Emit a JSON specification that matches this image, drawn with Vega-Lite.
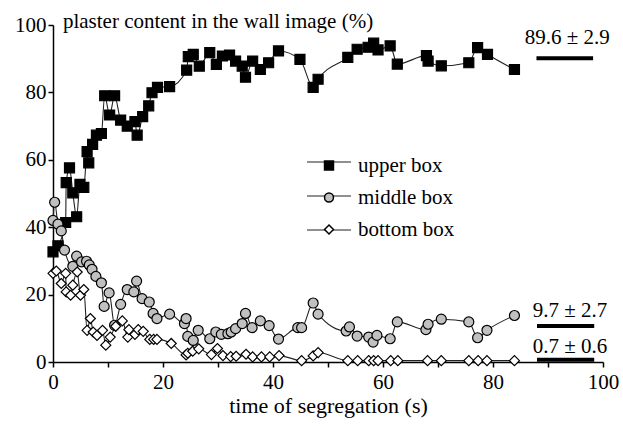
{
  "$schema": "https://vega.github.io/schema/vega-lite/v6.json",
  "width": 550,
  "height": 337,
  "autosize": {"type": "none"},
  "padding": {"left": 53, "top": 25, "right": 20, "bottom": 64},
  "background": "white",
  "config": {
    "view": {"stroke": null},
    "font": "Liberation Serif",
    "axis": {
      "grid": false,
      "domainColor": "black",
      "domainWidth": 1.5,
      "tickColor": "black",
      "tickWidth": 1.5,
      "tickSize": 5,
      "labelFont": "Liberation Serif",
      "labelFontSize": 21,
      "labelColor": "black",
      "titleFont": "Liberation Serif",
      "titleFontSize": 22,
      "titleFontWeight": "normal",
      "titleColor": "black",
      "labelFlush": false,
      "labelOverlap": false
    }
  },
  "data": {
    "values": [
      {"t": 0.0, "v": 32.7, "series": "upper box"},
      {"t": 0.9, "v": 34.5, "series": "upper box"},
      {"t": 2.3, "v": 41.4, "series": "upper box"},
      {"t": 2.4, "v": 53.2, "series": "upper box"},
      {"t": 3.0, "v": 57.6, "series": "upper box"},
      {"t": 3.6, "v": 50.2, "series": "upper box"},
      {"t": 4.3, "v": 43.1, "series": "upper box"},
      {"t": 4.9, "v": 52.7, "series": "upper box"},
      {"t": 5.6, "v": 51.8, "series": "upper box"},
      {"t": 6.2, "v": 62.4, "series": "upper box"},
      {"t": 6.5, "v": 59.1, "series": "upper box"},
      {"t": 7.2, "v": 64.6, "series": "upper box"},
      {"t": 7.9, "v": 67.3, "series": "upper box"},
      {"t": 8.8, "v": 67.8, "series": "upper box"},
      {"t": 9.4, "v": 79.0, "series": "upper box"},
      {"t": 10.3, "v": 73.3, "series": "upper box"},
      {"t": 11.2, "v": 79.0, "series": "upper box"},
      {"t": 12.3, "v": 71.8, "series": "upper box"},
      {"t": 13.5, "v": 70.0, "series": "upper box"},
      {"t": 14.9, "v": 71.3, "series": "upper box"},
      {"t": 15.3, "v": 67.3, "series": "upper box"},
      {"t": 16.3, "v": 72.8, "series": "upper box"},
      {"t": 17.4, "v": 76.0, "series": "upper box"},
      {"t": 18.0, "v": 79.9, "series": "upper box"},
      {"t": 19.0, "v": 81.5, "series": "upper box"},
      {"t": 21.2, "v": 81.7, "series": "upper box"},
      {"t": 24.3, "v": 86.6, "series": "upper box"},
      {"t": 24.6, "v": 90.6, "series": "upper box"},
      {"t": 25.5, "v": 91.3, "series": "upper box"},
      {"t": 26.6, "v": 87.8, "series": "upper box"},
      {"t": 28.5, "v": 91.8, "series": "upper box"},
      {"t": 29.7, "v": 88.3, "series": "upper box"},
      {"t": 30.8, "v": 90.8, "series": "upper box"},
      {"t": 32.1, "v": 91.1, "series": "upper box"},
      {"t": 33.2, "v": 89.3, "series": "upper box"},
      {"t": 34.4, "v": 87.8, "series": "upper box"},
      {"t": 35.0, "v": 84.5, "series": "upper box"},
      {"t": 36.3, "v": 89.3, "series": "upper box"},
      {"t": 37.7, "v": 86.8, "series": "upper box"},
      {"t": 39.2, "v": 88.8, "series": "upper box"},
      {"t": 41.0, "v": 92.3, "series": "upper box"},
      {"t": 44.9, "v": 89.8, "series": "upper box"},
      {"t": 47.3, "v": 81.5, "series": "upper box"},
      {"t": 48.2, "v": 83.9, "series": "upper box"},
      {"t": 53.6, "v": 90.4, "series": "upper box"},
      {"t": 55.3, "v": 92.8, "series": "upper box"},
      {"t": 57.3, "v": 93.4, "series": "upper box"},
      {"t": 58.3, "v": 94.6, "series": "upper box"},
      {"t": 59.1, "v": 92.6, "series": "upper box"},
      {"t": 61.3, "v": 93.8, "series": "upper box"},
      {"t": 62.6, "v": 88.4, "series": "upper box"},
      {"t": 67.9, "v": 90.9, "series": "upper box"},
      {"t": 68.2, "v": 89.3, "series": "upper box"},
      {"t": 70.6, "v": 87.9, "series": "upper box"},
      {"t": 75.6, "v": 88.8, "series": "upper box"},
      {"t": 77.2, "v": 93.3, "series": "upper box"},
      {"t": 79.0, "v": 91.3, "series": "upper box"},
      {"t": 83.9, "v": 86.8, "series": "upper box"},

      {"t": 0.0, "v": 42.0, "series": "middle box"},
      {"t": 0.3, "v": 47.4, "series": "middle box"},
      {"t": 0.9, "v": 40.9, "series": "middle box"},
      {"t": 1.5, "v": 38.9, "series": "middle box"},
      {"t": 2.1, "v": 33.2, "series": "middle box"},
      {"t": 3.6, "v": 28.4, "series": "middle box"},
      {"t": 4.3, "v": 31.4, "series": "middle box"},
      {"t": 5.2, "v": 29.7, "series": "middle box"},
      {"t": 6.1, "v": 29.9, "series": "middle box"},
      {"t": 6.6, "v": 28.8, "series": "middle box"},
      {"t": 7.1, "v": 27.5, "series": "middle box"},
      {"t": 7.8, "v": 25.4, "series": "middle box"},
      {"t": 8.8, "v": 23.5, "series": "middle box"},
      {"t": 9.3, "v": 16.5, "series": "middle box"},
      {"t": 10.2, "v": 20.5, "series": "middle box"},
      {"t": 11.2, "v": 10.9, "series": "middle box"},
      {"t": 12.3, "v": 17.1, "series": "middle box"},
      {"t": 13.5, "v": 21.5, "series": "middle box"},
      {"t": 14.7, "v": 20.8, "series": "middle box"},
      {"t": 15.2, "v": 24.0, "series": "middle box"},
      {"t": 16.2, "v": 18.8, "series": "middle box"},
      {"t": 17.5, "v": 17.8, "series": "middle box"},
      {"t": 18.2, "v": 14.4, "series": "middle box"},
      {"t": 18.9, "v": 12.9, "series": "middle box"},
      {"t": 21.2, "v": 14.2, "series": "middle box"},
      {"t": 23.9, "v": 11.4, "series": "middle box"},
      {"t": 24.2, "v": 12.9, "series": "middle box"},
      {"t": 24.5, "v": 7.6, "series": "middle box"},
      {"t": 25.5, "v": 6.4, "series": "middle box"},
      {"t": 26.4, "v": 9.4, "series": "middle box"},
      {"t": 28.5, "v": 6.9, "series": "middle box"},
      {"t": 29.6, "v": 8.9, "series": "middle box"},
      {"t": 30.6, "v": 8.2, "series": "middle box"},
      {"t": 31.8, "v": 8.4, "series": "middle box"},
      {"t": 32.4, "v": 8.9, "series": "middle box"},
      {"t": 33.2, "v": 9.9, "series": "middle box"},
      {"t": 34.4, "v": 11.4, "series": "middle box"},
      {"t": 35.0, "v": 14.4, "series": "middle box"},
      {"t": 36.2, "v": 10.2, "series": "middle box"},
      {"t": 37.7, "v": 12.2, "series": "middle box"},
      {"t": 39.3, "v": 10.8, "series": "middle box"},
      {"t": 41.0, "v": 6.8, "series": "middle box"},
      {"t": 44.5, "v": 10.2, "series": "middle box"},
      {"t": 45.2, "v": 10.2, "series": "middle box"},
      {"t": 47.3, "v": 17.5, "series": "middle box"},
      {"t": 48.2, "v": 14.2, "series": "middle box"},
      {"t": 53.3, "v": 9.2, "series": "middle box"},
      {"t": 53.9, "v": 10.4, "series": "middle box"},
      {"t": 55.3, "v": 7.7, "series": "middle box"},
      {"t": 57.4, "v": 7.4, "series": "middle box"},
      {"t": 58.2, "v": 5.9, "series": "middle box"},
      {"t": 58.9, "v": 7.9, "series": "middle box"},
      {"t": 61.3, "v": 6.9, "series": "middle box"},
      {"t": 62.6, "v": 11.9, "series": "middle box"},
      {"t": 67.8, "v": 9.6, "series": "middle box"},
      {"t": 68.2, "v": 11.2, "series": "middle box"},
      {"t": 70.6, "v": 12.7, "series": "middle box"},
      {"t": 75.6, "v": 11.9, "series": "middle box"},
      {"t": 77.2, "v": 7.2, "series": "middle box"},
      {"t": 78.9, "v": 9.4, "series": "middle box"},
      {"t": 83.9, "v": 13.8, "series": "middle box"},

      {"t": 0.0, "v": 26.3, "series": "bottom box"},
      {"t": 0.6, "v": 27.0, "series": "bottom box"},
      {"t": 1.5, "v": 23.3, "series": "bottom box"},
      {"t": 2.3, "v": 26.3, "series": "bottom box"},
      {"t": 2.4, "v": 20.8, "series": "bottom box"},
      {"t": 3.2, "v": 19.8, "series": "bottom box"},
      {"t": 3.6, "v": 22.8, "series": "bottom box"},
      {"t": 4.4, "v": 26.7, "series": "bottom box"},
      {"t": 5.0, "v": 19.8, "series": "bottom box"},
      {"t": 5.6, "v": 21.5, "series": "bottom box"},
      {"t": 6.2, "v": 9.4, "series": "bottom box"},
      {"t": 6.8, "v": 12.9, "series": "bottom box"},
      {"t": 7.3, "v": 8.9, "series": "bottom box"},
      {"t": 8.0, "v": 7.9, "series": "bottom box"},
      {"t": 9.0, "v": 9.4, "series": "bottom box"},
      {"t": 9.6, "v": 5.0, "series": "bottom box"},
      {"t": 10.4, "v": 7.4, "series": "bottom box"},
      {"t": 11.4, "v": 10.6, "series": "bottom box"},
      {"t": 12.6, "v": 12.2, "series": "bottom box"},
      {"t": 13.6, "v": 7.4, "series": "bottom box"},
      {"t": 13.8, "v": 9.6, "series": "bottom box"},
      {"t": 14.9, "v": 8.2, "series": "bottom box"},
      {"t": 15.5, "v": 9.6, "series": "bottom box"},
      {"t": 16.4, "v": 9.1, "series": "bottom box"},
      {"t": 17.6, "v": 6.7, "series": "bottom box"},
      {"t": 18.3, "v": 6.7, "series": "bottom box"},
      {"t": 18.9, "v": 6.7, "series": "bottom box"},
      {"t": 21.5, "v": 5.5, "series": "bottom box"},
      {"t": 24.2, "v": 2.1, "series": "bottom box"},
      {"t": 24.5, "v": 2.6, "series": "bottom box"},
      {"t": 25.4, "v": 3.2, "series": "bottom box"},
      {"t": 26.5, "v": 3.9, "series": "bottom box"},
      {"t": 28.8, "v": 2.2, "series": "bottom box"},
      {"t": 29.9, "v": 4.0, "series": "bottom box"},
      {"t": 30.9, "v": 1.9, "series": "bottom box"},
      {"t": 32.3, "v": 1.6, "series": "bottom box"},
      {"t": 33.3, "v": 1.7, "series": "bottom box"},
      {"t": 35.1, "v": 2.3, "series": "bottom box"},
      {"t": 36.3, "v": 1.5, "series": "bottom box"},
      {"t": 37.9, "v": 1.5, "series": "bottom box"},
      {"t": 39.4, "v": 1.5, "series": "bottom box"},
      {"t": 41.1, "v": 1.9, "series": "bottom box"},
      {"t": 45.2, "v": 0.4, "series": "bottom box"},
      {"t": 47.3, "v": 1.8, "series": "bottom box"},
      {"t": 48.2, "v": 2.8, "series": "bottom box"},
      {"t": 53.6, "v": 0.4, "series": "bottom box"},
      {"t": 55.4, "v": 0.4, "series": "bottom box"},
      {"t": 57.4, "v": 0.4, "series": "bottom box"},
      {"t": 58.3, "v": 0.4, "series": "bottom box"},
      {"t": 59.1, "v": 0.4, "series": "bottom box"},
      {"t": 61.4, "v": 0.4, "series": "bottom box"},
      {"t": 62.7, "v": 0.4, "series": "bottom box"},
      {"t": 68.1, "v": 0.4, "series": "bottom box"},
      {"t": 70.6, "v": 0.4, "series": "bottom box"},
      {"t": 75.6, "v": 0.4, "series": "bottom box"},
      {"t": 77.3, "v": 0.4, "series": "bottom box"},
      {"t": 78.9, "v": 0.4, "series": "bottom box"},
      {"t": 83.9, "v": 0.4, "series": "bottom box"}
    ]
  },
  "layer": [
    {
      "mark": {"type": "line", "interpolate": "monotone", "strokeWidth": 1.1},
      "encoding": {
        "x": {
          "field": "t", "type": "quantitative",
          "scale": {"domain": [0, 100], "nice": false, "zero": false},
          "axis": {
            "title": "time of segregation (s)",
            "values": [0, 5, 10, 15, 20, 25, 30, 35, 40, 45, 50, 55, 60, 65, 70, 75, 80, 85, 90, 95, 100],
            "labelExpr": "datum.value % 20 === 0 ? datum.label : ''",
            "labelPadding": 4,
            "titlePadding": 3
          }
        },
        "y": {
          "field": "v", "type": "quantitative",
          "scale": {"domain": [0, 100], "nice": false},
          "axis": {
            "title": null,
            "values": [0, 10, 20, 30, 40, 50, 60, 70, 80, 90, 100],
            "labelExpr": "datum.value % 20 === 0 ? datum.label : ''",
            "labelPadding": 2
          }
        },
        "stroke": {
          "field": "series", "type": "nominal",
          "sort": ["upper box", "middle box", "bottom box"],
          "scale": {"range": ["#222222", "#222222", "#222222"]},
          "legend": {
            "orient": "none",
            "legendX": 253,
            "legendY": 114,
            "title": null,
            "padding": 0,
            "symbolType": "stroke",
            "symbolSize": 1936,
            "symbolStrokeWidth": 1.2,
            "symbolStrokeColor": "#222222",
            "labelFont": "Liberation Serif",
            "labelFontSize": 21,
            "labelExpr": "''",
            "labelOffset": 4,
            "rowPadding": 1
          }
        }
      }
    },
    {
      "mark": {"type": "point", "filled": true, "stroke": "black", "strokeWidth": 1.2, "size": 100, "opacity": 1},
      "encoding": {
        "x": {"field": "t", "type": "quantitative"},
        "y": {"field": "v", "type": "quantitative"},
        "shape": {
          "field": "series", "type": "nominal",
          "scale": {"domain": ["upper box", "middle box", "bottom box"], "range": ["square", "circle", "diamond"]},
          "legend": {
            "orient": "none",
            "legendX": 265.5,
            "legendY": 130,
            "title": null,
            "padding": 0,
            "labelFont": "Liberation Serif",
            "labelFontSize": 21,
            "labelColor": "black",
            "labelOffset": 18.5,
            "rowPadding": 10,
            "symbolSize": 80
          }
        },
        "fill": {
          "field": "series", "type": "nominal",
          "scale": {"domain": ["upper box", "middle box", "bottom box"], "range": ["black", "#c0c0c0", "white"]},
          "legend": {
            "orient": "none",
            "legendX": 265.5,
            "legendY": 130,
            "title": null,
            "padding": 0,
            "labelFont": "Liberation Serif",
            "labelFontSize": 21,
            "labelColor": "black",
            "labelOffset": 18.5,
            "rowPadding": 10,
            "symbolSize": 80
          }
        }
      }
    },
    {
      "data": {
        "values": [
          {"x": 1.8, "y": 99.0, "label": "plaster content in the wall image (%)"}
        ]
      },
      "mark": {"type": "text", "align": "left", "baseline": "alphabetic", "font": "Liberation Serif", "fontSize": 21, "color": "black"},
      "encoding": {
        "x": {"field": "x", "type": "quantitative"},
        "y": {"field": "y", "type": "quantitative"},
        "text": {"field": "label"}
      }
    },
    {
      "data": {
        "values": [
          {"x": 93.5, "y": 94.4, "label": "89.6 ± 2.9"},
          {"x": 94.0, "y": 13.4, "label": "9.7 ± 2.7"},
          {"x": 94.0, "y": 2.7, "label": "0.7 ± 0.6"}
        ]
      },
      "mark": {"type": "text", "align": "center", "baseline": "alphabetic", "font": "Liberation Serif", "fontSize": 21, "color": "black"},
      "encoding": {
        "x": {"field": "x", "type": "quantitative"},
        "y": {"field": "y", "type": "quantitative"},
        "text": {"field": "label"}
      }
    },
    {
      "data": {
        "values": [
          {"x": 87.9, "x2": 98.2, "y": 90.1},
          {"x": 88.0, "x2": 98.4, "y": 10.7},
          {"x": 88.0, "x2": 98.4, "y": 0.7}
        ]
      },
      "mark": {"type": "rule", "stroke": "black", "strokeWidth": 4},
      "encoding": {
        "x": {"field": "x", "type": "quantitative"},
        "x2": {"field": "x2"},
        "y": {"field": "y", "type": "quantitative"}
      }
    }
  ]
}
